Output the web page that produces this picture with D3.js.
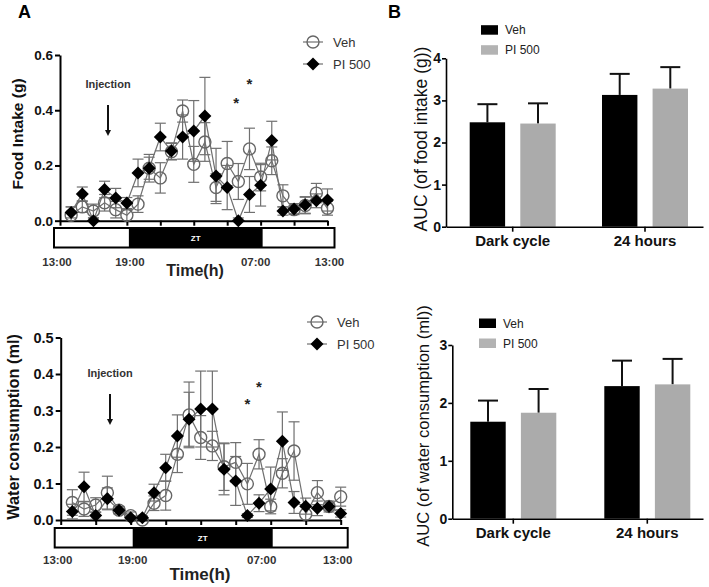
<!DOCTYPE html>
<html><head><meta charset="utf-8">
<script src="https://cdn.jsdelivr.net/npm/d3@7"></script>
<style>body{margin:0;background:#fff} svg{font-family:"Liberation Sans",Arial,sans-serif}</style>
</head><body><svg id="c" width="709" height="587"></svg>
<script>
// ---------- data ----------
const hours = [1,2,3,4,5,6,7,8,9,10,11,12,13,14,15,16,17,18,19,20,21,22,23,24];
const xTickHours = [0,3,6,9,12,15,18,21,24];
const xLabelHours = [0,6,18,24];
const xLabels = ["13:00","19:00","07:00","13:00"];
const seriesNames = ["Veh","PI 500"];

const foodVeh    = [0.02,0.05,0.035,0.065,0.04,0.02,0.06,0.19,0.155,0.25,0.397,0.204,0.285,0.12,0.207,0.142,0.26,0.158,0.217,0.09,0.04,0.055,0.1,0.045];
const foodVehErr = [0.03,0.02,0.025,0.03,0.03,0.02,0.03,0.04,0.055,0.03,0.04,0.065,0.07,0.05,0.08,0.065,0.075,0.05,0.05,0.04,0.015,0.03,0.035,0.025];
const foodPI     = [0.03,0.097,0.0,0.113,0.082,0.064,0.173,0.19,0.303,0.252,0.303,0.325,0.379,0.162,0.12,0.0,0.095,0.128,0.29,0.035,0.042,0.057,0.072,0.075];
const foodPIErr  = [0.02,0.025,0.01,0.03,0.035,0.02,0.05,0.05,0.05,0.03,0.08,0.11,0.14,0.1,0.08,0.01,0.065,0.075,0.07,0.015,0.02,0.03,0.025,0.04];

const waterVeh    = [0.048,0.03,0.041,0.075,0.027,0.012,0.0,0.046,0.067,0.18,0.288,0.226,0.203,0.146,0.158,0.099,0.18,0.037,0.128,0.189,0.016,0.075,0.037,0.064];
const waterVehErr = [0.035,0.02,0.02,0.045,0.01,0.01,0.005,0.02,0.04,0.05,0.09,0.06,0.04,0.065,0.054,0.056,0.04,0.02,0.04,0.08,0.02,0.033,0.01,0.026];
const waterPI     = [0.023,0.091,0.012,0.058,0.027,0.006,0.006,0.075,0.143,0.23,0.276,0.304,0.304,0.139,0.107,0.012,0.046,0.085,0.216,0.048,0.038,0.032,0.037,0.018];
const waterPIErr  = [0.02,0.04,0.01,0.03,0.01,0.005,0.005,0.023,0.037,0.058,0.074,0.104,0.104,0.07,0.067,0.005,0.023,0.06,0.08,0.03,0.022,0.02,0.015,0.01];

const aucGroups = ["Dark cycle","24 hours"];
const foodAucVeh = [2.48,3.13], foodAucVehErr = [0.43,0.5];
const foodAucPI  = [2.45,3.28], foodAucPIErr  = [0.48,0.51];
const waterAucVeh = [1.675,2.29], waterAucVehErr = [0.365,0.44];
const waterAucPI  = [1.83,2.32],  waterAucPIErr  = [0.41,0.44];

// ---------- drawing ----------
const svg = d3.select("#c");
const GRAY = "#707070";
const diamond = s => `M0,${-s}L${s},0L0,${s}L${-s},0Z`;

svg.append("text").attr("x",18).attr("y",18).attr("font-size",18).attr("font-weight","bold").text("A");
svg.append("text").attr("x",388).attr("y",18).attr("font-size",18).attr("font-weight","bold").text("B");

function linePanel(o){
  const x = d3.scaleLinear().domain([0,24]).range(o.xr);
  const y = d3.scaleLinear().domain([0,o.ymax]).range(o.yr);
  const g = svg.append("g");

  const ya = g.append("g").attr("transform",`translate(${o.xr[0]},0)`)
    .call(d3.axisLeft(y).tickValues(o.yticks).tickFormat(d3.format(".1f")).tickSize(5).tickSizeOuter(0).tickPadding(2));
  ya.select(".domain").attr("stroke","#000").attr("stroke-width",2);
  ya.selectAll(".tick line").attr("stroke","#000").attr("stroke-width",2);
  ya.selectAll(".tick text").attr("font-size",o.tickFs).attr("font-weight","bold").attr("fill","#111").attr("font-family","Liberation Sans, Arial, sans-serif");

  const xa = g.append("g").attr("transform",`translate(0,${o.yr[0]})`)
    .call(d3.axisBottom(x).tickValues(xTickHours).tickFormat("").tickSize(5).tickSizeOuter(0));
  xa.select(".domain").attr("stroke","#000").attr("stroke-width",2);
  xa.selectAll(".tick line").attr("stroke","#000").attr("stroke-width",2);

  const bx0 = x(0)-6, bx1 = x(24)+7;
  g.append("rect").attr("x",bx0).attr("y",o.barY).attr("width",bx1-bx0).attr("height",o.barH)
    .attr("fill","#fff").attr("stroke","#000").attr("stroke-width",2);
  g.append("rect").attr("x",x(6)+2).attr("y",o.barY).attr("width",x(18)-x(6)).attr("height",o.barH).attr("fill","#000");
  g.append("text").attr("x",(x(6)+x(18))/2+2).attr("y",o.barY+o.barH/2+3).attr("text-anchor","middle")
    .attr("font-size",8).attr("font-weight","bold").attr("fill","#fff").text("ZT");

  g.selectAll(".xl").data(xLabelHours).join("text")
    .attr("x",(d,i)=>x(d)+o.labOff[i]).attr("y",o.labY).attr("text-anchor","middle")
    .attr("font-size",11.5).attr("font-weight","bold").attr("fill","#333").text((d,i)=>xLabels[i]);
  g.append("text").attr("x",o.timeX).attr("y",o.timeY).attr("text-anchor","middle")
    .attr("font-size",o.timeFs).attr("font-weight","bold").attr("fill","#222").text("Time(h)");

  g.append("text").attr("transform",`translate(${o.titleX},${o.titleY}) rotate(-90)`).attr("text-anchor","middle")
    .attr("font-size",o.titleFs).attr("font-weight","bold").attr("fill","#111").text(o.title);

  g.append("text").attr("x",o.injX).attr("y",o.injY).attr("text-anchor","middle")
    .attr("font-size",11).attr("font-weight","bold").attr("fill","#333").text("Injection");
  g.append("line").attr("x1",o.injX).attr("x2",o.injX).attr("y1",o.injY+17).attr("y2",o.injY+44)
    .attr("stroke","#111").attr("stroke-width",2);
  g.append("path").attr("d",`M${o.injX-3},${o.injY+42}L${o.injX+3},${o.injY+42}L${o.injX},${o.injY+48}Z`).attr("fill","#111");

  o.stars.forEach(s=>{
    g.append("text").attr("x",x(s[0])).attr("y",y(s[1])+6).attr("text-anchor","middle")
      .attr("font-size",15).attr("font-weight","bold").attr("fill","#222").text("*");
  });

  const series = [
    {vals:o.veh, err:o.vehErr},
    {vals:o.pi, err:o.piErr}
  ];
  series.forEach(s=>{
    const eg = g.append("g").attr("stroke",GRAY).attr("stroke-width",1.2);
    hours.forEach((h,i)=>{
      const v=s.vals[i], e=s.err[i];
      const lo=Math.max(0,v-e), hi=v+e, cx=x(h);
      eg.append("line").attr("x1",cx).attr("x2",cx).attr("y1",y(lo)).attr("y2",y(hi));
      eg.append("line").attr("x1",cx-5.5).attr("x2",cx+5.5).attr("y1",y(hi)).attr("y2",y(hi));
      if(v-e>0) eg.append("line").attr("x1",cx-5.5).attr("x2",cx+5.5).attr("y1",y(lo)).attr("y2",y(lo));
    });
  });
  const lineGen = d3.line().x((d,i)=>x(hours[i])).y(d=>y(d));
  series.forEach(s=>{
    g.append("path").datum(s.vals).attr("d",lineGen).attr("fill","none").attr("stroke",GRAY).attr("stroke-width",1.2);
  });
  g.selectAll(".vc").data(o.veh).join("circle")
    .attr("cx",(d,i)=>x(hours[i])).attr("cy",d=>y(d)).attr("r",6)
    .attr("fill","none").attr("stroke","#666").attr("stroke-width",1.4);
  g.selectAll(".pd").data(o.pi).join("path")
    .attr("transform",(d,i)=>`translate(${x(hours[i])},${y(d)})`).attr("d",diamond(6.5)).attr("fill","#000");

  const lg = g.append("g");
  lg.append("line").attr("x1",o.legX-10).attr("x2",o.legX+10).attr("y1",o.legY).attr("y2",o.legY).attr("stroke",GRAY).attr("stroke-width",1.2);
  lg.append("circle").attr("cx",o.legX).attr("cy",o.legY).attr("r",6).attr("fill","none").attr("stroke","#666").attr("stroke-width",1.4);
  lg.append("line").attr("x1",o.legX-10).attr("x2",o.legX+10).attr("y1",o.legY+22).attr("y2",o.legY+22).attr("stroke",GRAY).attr("stroke-width",1.2);
  lg.append("path").attr("transform",`translate(${o.legX},${o.legY+22})`).attr("d",diamond(6.5)).attr("fill","#000");
  seriesNames.forEach((n,i)=>{
    lg.append("text").attr("x",o.legX+20).attr("y",o.legY+22*i+4.5).attr("font-size",13).attr("fill","#333").text(n);
  });
}

linePanel({
  xr:[60,327.5], yr:[220.7,55], ymax:0.6, yticks:[0,0.2,0.4,0.6], tickFs:13.5,
  barY:228, barH:19.5, labY:266, labOff:[-3,3,-5,2], timeX:195, timeY:276, timeFs:16,
  title:"Food Intake (g)", titleX:23, titleY:134, titleFs:15.5,
  injX:108, injY:88, stars:[[15.8,0.43],[17,0.497]],
  veh:foodVeh, vehErr:foodVehErr, pi:foodPI, piErr:foodPIErr, legX:313, legY:42
});
linePanel({
  xr:[60.7,340.7], yr:[520,337.5], ymax:0.5, yticks:[0,0.1,0.2,0.3,0.4,0.5], tickFs:14.5,
  barY:528, barH:19.5, labY:564, labOff:[-3,2,-9,-3], timeX:200, timeY:580, timeFs:17,
  title:"Water consumption (ml)", titleX:19, titleY:427, titleFs:16.3,
  injX:110, injY:377, stars:[[16,0.32],[17,0.367]],
  veh:waterVeh, vehErr:waterVehErr, pi:waterPI, piErr:waterPIErr, legX:317, legY:322
});

function barPanel(o){
  const x0 = d3.scalePoint().domain(aucGroups).range(o.centers);
  const x1 = d3.scaleBand().domain(seriesNames).range([-43,43]).paddingInner(0.3);
  const y = d3.scaleLinear().domain([0,o.ymax]).range(o.yr);
  const g = svg.append("g");
  const colors = ["#000","#ababab"];
  const sets = [{v:o.veh,e:o.vehErr},{v:o.pi,e:o.piErr}];

  sets.forEach((s,si)=>{
    aucGroups.forEach((grp,gi)=>{
      const bx = x0(grp)+x1(seriesNames[si]), bw = x1.bandwidth(), cx = bx+bw/2;
      g.append("line").attr("x1",cx).attr("x2",cx).attr("y1",y(s.v[gi])).attr("y2",y(s.v[gi]+s.e[gi]))
        .attr("stroke","#111").attr("stroke-width",2);
      g.append("line").attr("x1",cx-10).attr("x2",cx+10).attr("y1",y(s.v[gi]+s.e[gi])).attr("y2",y(s.v[gi]+s.e[gi]))
        .attr("stroke","#111").attr("stroke-width",2);
      g.append("rect").attr("x",bx).attr("y",y(s.v[gi])).attr("width",bw).attr("height",y(0)-y(s.v[gi])).attr("fill",colors[si]);
    });
  });

  const ya = g.append("g").attr("transform",`translate(${o.ax0},0)`)
    .call(d3.axisLeft(y).ticks(o.ymax).tickFormat(d3.format("d")).tickSize(4).tickSizeOuter(0).tickPadding(1));
  ya.select(".domain").attr("stroke","#000").attr("stroke-width",1.6);
  ya.selectAll(".tick line").attr("stroke","#000").attr("stroke-width",1.6);
  ya.selectAll(".tick text").attr("font-size",14).attr("font-weight","bold").attr("fill","#111").attr("font-family","Liberation Sans, Arial, sans-serif");

  const xs = d3.scaleLinear().domain([0,1]).range([o.ax0,703]);
  const xa = g.append("g").attr("transform",`translate(0,${o.yr[0]})`)
    .call(d3.axisBottom(xs).tickValues([]).tickSizeOuter(0));
  xa.select(".domain").attr("stroke","#000").attr("stroke-width",1.6);
  aucGroups.forEach(grp=>{
    g.append("line").attr("x1",x0(grp)).attr("x2",x0(grp)).attr("y1",o.yr[0]).attr("y2",o.yr[0]+5).attr("stroke","#000").attr("stroke-width",1.6);
    g.append("text").attr("x",x0(grp)).attr("y",o.yr[0]+19).attr("text-anchor","middle")
      .attr("font-size",15).attr("font-weight","bold").attr("fill","#111").text(grp);
  });

  g.append("text").attr("transform",`translate(${o.titleX},${o.titleY}) rotate(-90)`).attr("text-anchor","middle")
    .attr("font-size",o.titleFs).attr("fill","#111").text(o.title);

  seriesNames.forEach((n,i)=>{
    g.append("rect").attr("x",o.legX).attr("y",o.legY+20*i-4.5).attr("width",17).attr("height",9.5).attr("fill",i===0?"#000":"#b3b3b3");
    g.append("text").attr("x",o.legX+24).attr("y",o.legY+20*i+4.5).attr("font-size",12).attr("fill","#222").text(n);
  });
}

barPanel({
  centers:[512.7,645], ymax:4, yr:[226.7,58.3], ax0:446,
  veh:foodAucVeh, vehErr:foodAucVehErr, pi:foodAucPI, piErr:foodAucPIErr,
  title:"AUC (of food intake (g))", titleX:427, titleY:139, titleFs:17.5, legX:481, legY:29.7
});
barPanel({
  centers:[513.3,647.3], ymax:3, yr:[518.7,345], ax0:452.3,
  veh:waterAucVeh, vehErr:waterAucVehErr, pi:waterAucPI, piErr:waterAucPIErr,
  title:"AUC (of water consumption (ml))", titleX:429, titleY:426, titleFs:16.6, legX:479, legY:323
});
</script></body></html>
